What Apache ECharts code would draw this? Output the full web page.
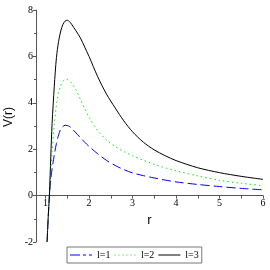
<!DOCTYPE html>
<html>
<head>
<meta charset="utf-8">
<script src="https://cdn.jsdelivr.net/npm/echarts@6/dist/echarts.min.js"></script>
<style>
html,body{margin:0;padding:0;background:#fff;}
#c{width:270px;height:270px;}
</style>
</head>
<body>
<div id="c"></div>
<script>
// Data
const rValues = [1.035, 1.06, 1.088, 1.12, 1.15, 1.2, 1.25, 1.3, 1.35, 1.4, 1.45, 1.5, 1.55, 1.6, 1.7, 1.8, 1.9, 2.0, 2.2, 2.4, 2.6, 2.8, 3.0, 3.25, 3.5, 3.75, 4.0, 4.5, 5.0, 5.5, 6.0];
const vL1 = [-2, -1.0, 0, 0.7, 1.15, 1.75, 2.25, 2.62, 2.86, 2.98, 3.03, 3.02, 2.98, 2.9, 2.7, 2.5, 2.3, 2.12, 1.8, 1.52, 1.3, 1.12, 0.98, 0.86, 0.76, 0.67, 0.59, 0.48, 0.39, 0.31, 0.25];
const vL2 = [-2, -0.95, 0, 0.95, 1.85, 3.05, 3.9, 4.45, 4.75, 4.93, 5.0, 5.0, 4.94, 4.85, 4.55, 4.15, 3.75, 3.38, 2.8, 2.4, 2.12, 1.9, 1.72, 1.52, 1.35, 1.2, 1.07, 0.85, 0.66, 0.53, 0.43];
const vL3 = [-2, -0.95, 0, 1.7, 3.1, 4.7, 5.95, 6.65, 7.1, 7.38, 7.52, 7.56, 7.5, 7.38, 7.1, 6.8, 6.4, 6.0, 5.12, 4.38, 3.78, 3.22, 2.75, 2.3, 1.97, 1.72, 1.51, 1.2, 0.99, 0.83, 0.70];
const seriesNames = ['l=1', 'l=2', 'l=3'];
const xTickLabels = [1, 2, 3, 4, 5, 6];
const xTickMarks = [1, 1.5, 2, 2.5, 3, 3.5, 4, 4.5, 5, 5.5, 6];

const pairs = v => rValues.map((r, i) => [r, v[i]]);
const chart = echarts.init(document.getElementById('c'), null, {renderer: 'canvas'});
const serif = '"Liberation Serif", "DejaVu Serif", serif';
const sans = '"Liberation Sans", Arial, sans-serif';
const gridTop = 10, gridBottom = 28, H = 270;
const yMin = -2, yMax = 8;
const plotH = H - gridTop - gridBottom;
const zeroOffset = -plotH * (0 - yMin) / (yMax - yMin);
chart.setOption({
  animation: false,
  grid: {left: 36, right: 7, top: gridTop, bottom: gridBottom, containLabel: false, outerBoundsMode: 'none'},
  xAxis: {
    type: 'value', min: 0.78, max: 6,
    position: 'bottom', offset: zeroOffset,
    name: 'r', nameLocation: 'middle', nameGap: 17,
    nameTextStyle: {fontFamily: sans, fontSize: 13, color: '#000'},
    axisLine: {onZero: false, lineStyle: {color: '#555', width: 1}},
    axisTick: {show: true, length: 3, inside: false, customValues: xTickMarks, lineStyle: {color: '#555'}},
    axisLabel: {customValues: xTickLabels, fontFamily: serif, fontSize: 10, color: '#000', margin: 3},
    splitLine: {show: false}
  },
  yAxis: {
    type: 'value', min: yMin, max: yMax, interval: 2,
    axisLine: {show: true, lineStyle: {color: '#555', width: 1}},
    axisTick: {show: true, length: 3, lineStyle: {color: '#555'}},
    minorTick: {show: true, splitNumber: 2, length: 2, lineStyle: {color: '#555'}},
    axisLabel: {fontFamily: serif, fontSize: 10, color: '#000', margin: 3},
    splitLine: {show: false}
  },
  graphic: [{
    type: 'text', x: 3, y: 117, rotation: Math.PI / 2,
    style: {text: 'V(r)', fontFamily: sans, fontSize: 12, fill: '#000', align: 'center', verticalAlign: 'top'}
  }],
  legend: {
    bottom: 7, left: 67,
    orient: 'horizontal',
    data: [
      {name: seriesNames[0], icon: 'path://M0,0h10v1h-10zM13,0h3v1h-3zM19,0h3v1h-3z'},
      {name: seriesNames[1], icon: 'path://M0,0h1v1h-1zM4,0h1v1h-1zM8,0h1v1h-1zM12,0h1v1h-1zM16,0h1v1h-1zM20,0h1v1h-1z'},
      {name: seriesNames[2], icon: 'path://M0,0h22v1h-22z'}
    ],
    itemWidth: 22, itemHeight: 1, itemGap: 4,
    padding: [3, 3, 3, 3],
    borderColor: '#777', borderWidth: 1,
    textStyle: {fontFamily: serif, fontSize: 10, color: '#000'}
  },
  series: [
    {name: seriesNames[0], type: 'line', data: pairs(vL1), symbol: 'none', smooth: 0.3,
     lineStyle: {color: '#0000ff', width: 1, type: [9, 4]}, itemStyle: {color: '#0000ff'}},
    {name: seriesNames[1], type: 'line', data: pairs(vL2), symbol: 'none', smooth: 0.3,
     lineStyle: {color: '#00ee00', width: 1, type: [1.5, 3]}, itemStyle: {color: '#00ee00'}},
    {name: seriesNames[2], type: 'line', data: pairs(vL3), symbol: 'none', smooth: 0.3,
     lineStyle: {color: '#000000', width: 1, type: 'solid'}, itemStyle: {color: '#000000'}}
  ]
});
</script>
</body>
</html>
